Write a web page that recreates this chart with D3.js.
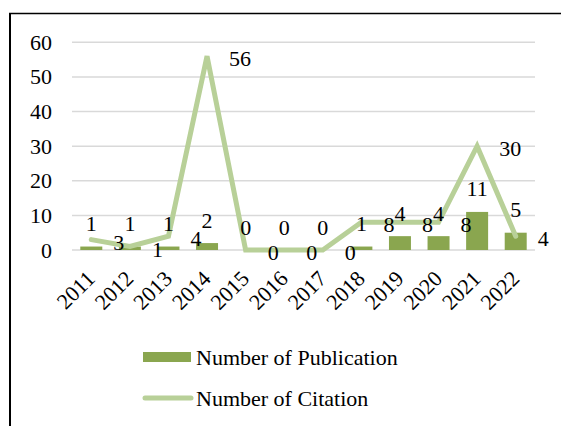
<!DOCTYPE html>
<html><head><meta charset="utf-8"><script src="https://cdn.jsdelivr.net/npm/d3@7"></script></head>
<body style="margin:0">
<svg id="s" width="561" height="426"></svg>
<script>
const years = ["2011","2012","2013","2014","2015","2016","2017","2018","2019","2020","2021","2022"];
const publications = [1, 1, 1, 2, 0, 0, 0, 1, 4, 4, 11, 5];
const citations = [3, 1, 4, 56, 0, 0, 0, 8, 8, 8, 30, 4];
const yTicks = [0, 10, 20, 30, 40, 50, 60];
const seriesNames = ["Number of Publication", "Number of Citation"];

const barColor = "#8aa64f";
const lineColor = "#b8d098";
const fontSize = 22;
const FONT = "Times New Roman";

const svg = d3.select("#s");
const W = 561, H = 426;
const plot = { left: 72, right: 535, top: 42.3, bottom: 250 };

function txt(sel) {
  return sel.attr("font-size", fontSize).style("font-family", FONT);
}

// frame
svg.append("line").attr("x1", 10).attr("x2", 10).attr("y1", 13).attr("y2", H)
  .attr("stroke", "#000").attr("stroke-width", 2);
svg.append("line").attr("x1", 9).attr("x2", W).attr("y1", 13.5).attr("y2", 13.5)
  .attr("stroke", "#000").attr("stroke-width", 1.5);

const x = d3.scaleBand().domain(years).range([plot.left, plot.right]).paddingInner(0.43).paddingOuter(0.215);
const y = d3.scaleLinear().domain([0, 60]).range([plot.bottom, plot.top]);
const cx = d => x(d) + x.bandwidth() / 2;

// gridlines
yTicks.forEach(t => {
  svg.append("line").attr("x1", plot.left).attr("x2", plot.right)
    .attr("y1", y(t)).attr("y2", y(t))
    .attr("stroke", "#d9d9d9").attr("stroke-width", 1.5);
});

// y axis labels
yTicks.forEach(t => {
  txt(svg.append("text")).attr("x", 52).attr("y", y(t) + 7.5).attr("text-anchor", "end").text(t);
});

// bars
years.forEach((yr, i) => {
  svg.append("rect").attr("x", x(yr)).attr("width", x.bandwidth())
    .attr("y", y(publications[i])).attr("height", y(0) - y(publications[i]))
    .attr("fill", barColor);
});

// line
const line = d3.line().x((d, i) => cx(years[i])).y(d => y(d));
svg.append("path").datum(citations).attr("d", line)
  .attr("fill", "none").attr("stroke", lineColor).attr("stroke-width", 5)
  .attr("stroke-linecap", "round").attr("stroke-linejoin", "miter");

// publication labels
years.forEach((yr, i) => {
  txt(svg.append("text")).attr("x", cx(yr)).attr("y", y(publications[i]) - 15.5)
    .attr("text-anchor", "middle").text(publications[i]);
});

// citation labels
years.forEach((yr, i) => {
  txt(svg.append("text")).attr("x", cx(yr) + 22).attr("y", y(citations[i]) + 10)
    .attr("text-anchor", "start").text(citations[i]);
});

// x axis labels
years.forEach(yr => {
  txt(svg.append("text")).attr("transform", `translate(${cx(yr) + 5},280) rotate(-45)`)
    .attr("text-anchor", "end").text(yr);
});

// legend
svg.append("rect").attr("x", 143).attr("y", 352).attr("width", 48).attr("height", 10).attr("fill", barColor);
txt(svg.append("text")).attr("x", 196).attr("y", 364.5).text(seriesNames[0]);
svg.append("line").attr("x1", 145).attr("x2", 191).attr("y1", 398).attr("y2", 398)
  .attr("stroke", lineColor).attr("stroke-width", 5).attr("stroke-linecap", "round");
txt(svg.append("text")).attr("x", 196).attr("y", 405.5).text(seriesNames[1]);
</script></body></html>
